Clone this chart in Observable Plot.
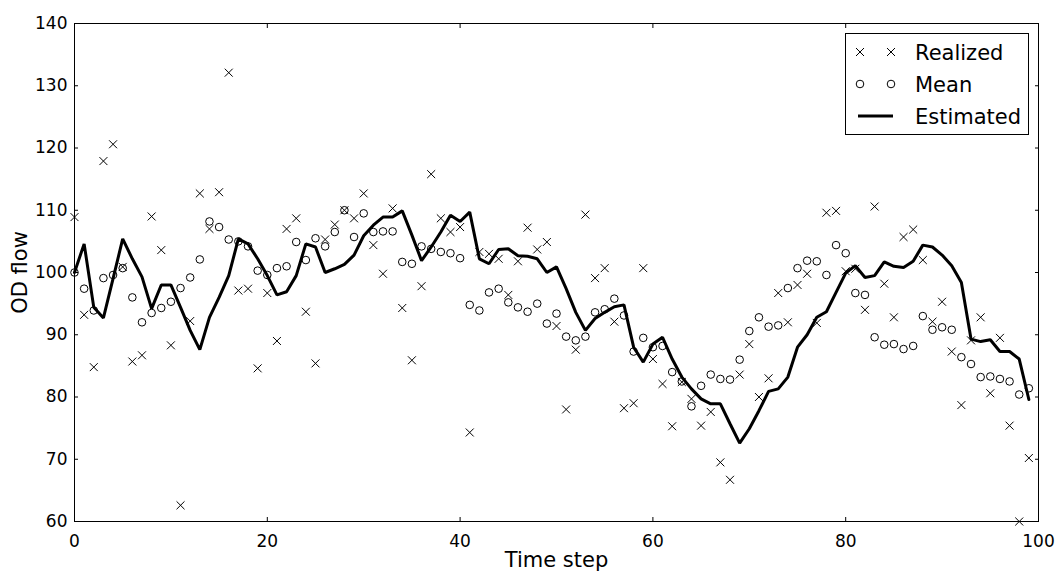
<!DOCTYPE html>
<html><head><meta charset="utf-8">
<script src="https://cdn.jsdelivr.net/npm/d3@7"></script>
<script src="https://cdn.jsdelivr.net/npm/@observablehq/plot@0.6"></script>
<style>
body{margin:0;background:#fff;font-family:"DejaVu Sans",sans-serif;}
#wrap{position:relative;width:1063px;height:572px;}
#legend{position:absolute;left:845px;top:33px;width:184px;height:102px;border:1px solid #000;background:#fff;box-sizing:border-box;font-size:21px;}
.row{position:absolute;left:0;height:30px;}
.row svg{position:absolute;left:0;top:0;}
.row span{position:absolute;left:69px;top:2px;white-space:nowrap;line-height:26px;}
</style></head><body><div id="wrap"><div id="legend"></div></div>
<script>
const realized = [108.9,93.2,84.8,117.9,120.6,100.9,85.7,86.7,109.0,103.6,88.3,62.6,92.2,112.7,107.0,112.9,132.1,97.1,97.4,84.6,
96.7,89.0,107.0,108.7,93.7,85.4,105.3,107.7,110.0,108.7,112.7,104.4,99.8,110.3,94.3,85.9,97.8,115.8,108.7,106.5,
107.3,74.3,103.3,103.0,102.2,96.4,101.8,107.2,103.7,104.9,91.4,78.0,87.6,109.3,99.1,100.7,92.1,78.2,79.0,100.7,
86.1,82.1,75.3,82.4,79.7,75.4,77.6,69.5,66.7,83.6,88.5,80.0,83.0,96.7,92.0,98.0,99.8,91.9,109.6,109.9,
100.2,100.6,94.0,110.6,98.2,92.8,105.7,106.9,102.0,92.1,95.3,87.3,78.7,89.1,92.8,80.6,89.5,75.4,60.0,70.2];
const mean = [100.0,97.4,93.9,99.1,99.6,100.7,96.0,92.0,93.5,94.3,95.3,97.5,99.2,102.1,108.2,107.3,105.3,105.0,104.2,100.3,
99.6,100.7,101.0,104.9,102.0,105.5,104.2,106.5,110.0,105.7,109.5,106.5,106.6,106.6,101.7,101.4,104.2,103.8,103.3,103.1,
102.3,94.8,93.9,96.8,97.4,95.2,94.4,93.7,95.0,91.8,93.4,89.7,89.1,89.7,93.6,94.1,95.8,93.1,87.3,89.5,
88.0,88.2,84.0,82.5,78.5,81.8,83.6,82.9,82.8,86.0,90.6,92.8,91.3,91.5,97.5,100.7,101.9,101.8,99.6,104.4,
103.1,96.7,96.4,89.6,88.4,88.5,87.7,88.2,93.0,90.8,91.2,90.8,86.4,85.3,83.2,83.3,82.9,82.5,80.4,81.4];
const estimated = [100.0,104.6,94.4,92.7,99.0,105.4,102.2,99.3,94.2,98.0,98.0,94.4,90.7,87.6,92.8,96.0,99.5,105.4,104.6,102.2,
99.5,96.4,96.9,99.5,104.6,104.1,100.0,100.6,101.3,102.8,105.9,107.6,108.9,108.9,109.9,106.0,101.9,104.1,106.5,109.2,
108.2,109.7,102.2,101.4,103.7,103.8,102.7,102.6,102.2,100.0,100.9,97.4,93.6,90.7,92.6,93.6,94.5,94.8,88.0,85.6,
88.5,89.6,86.1,83.2,81.3,79.7,78.9,78.9,75.7,72.6,74.9,77.8,80.9,81.3,83.2,88.0,90.0,92.8,93.7,96.8,
99.9,101.1,99.2,99.5,101.7,101.0,100.8,101.8,104.4,104.1,102.8,101.1,98.4,89.3,88.9,89.2,87.3,87.3,86.1,79.6];
const xTicks = [0,20,40,60,80,100];
const yTicks = [60,70,80,90,100,110,120,130,140];
const seriesNames = ["Realized","Mean","Estimated"];
const xLabel = "Time step";
const yLabel = "OD flow";

const rows = (arr) => arr.map((v,i)=>({t:i, v}));

const chart = Plot.plot({
  width:1063, height:572,
  marginLeft:74, marginRight:25, marginTop:23, marginBottom:51,
  style:{fontFamily:"DejaVu Sans", fontSize:"17px", background:"white", color:"black", overflow:"visible"},
  x:{domain:[0,100], ticks:xTicks},
  y:{domain:[60,140], ticks:yTicks},
  marks:[
    Plot.frame({stroke:"black", strokeWidth:1}),
    Plot.axisX(xTicks,{anchor:"bottom", tickSize:-4, tickPadding:17, label:null, fontSize:17}),
    Plot.axisX(xTicks,{anchor:"top", tickSize:-4, tickFormat:()=>"", label:null}),
    Plot.axisY(yTicks,{anchor:"left", tickSize:-4, tickPadding:11, label:null, fontSize:17}),
    Plot.axisY(yTicks,{anchor:"right", tickSize:-4, tickFormat:()=>"", label:null}),
    Plot.text([xLabel],{frameAnchor:"bottom", textAnchor:"middle", dy:39, fontSize:21, lineAnchor:"middle"}),
    Plot.text([yLabel],{frameAnchor:"left", textAnchor:"middle", dx:-54, rotate:-90, fontSize:21, lineAnchor:"middle"}),
    Plot.dot(rows(realized),{x:"t", y:"v", symbol:"times", r:3.7, stroke:"black", strokeWidth:1}),
    Plot.dot(rows(mean),{x:"t", y:"v", symbol:"circle", r:3.8, stroke:"black", fill:"none", strokeWidth:1}),
    Plot.line(rows(estimated),{x:"t", y:"v", stroke:"black", strokeWidth:3, strokeLinejoin:"miter"})
  ]
});
document.getElementById("wrap").prepend(chart);

// legend
const lg = document.getElementById("legend");
const sym = [
  `<line x1="10" y1="10" x2="18" y2="18" stroke="black"/><line x1="10" y1="18" x2="18" y2="10" stroke="black"/><line x1="41" y1="10" x2="49" y2="18" stroke="black"/><line x1="41" y1="18" x2="49" y2="10" stroke="black"/>`,
  `<circle cx="14" cy="14" r="3.8" fill="none" stroke="black"/><circle cx="45" cy="14" r="3.8" fill="none" stroke="black"/>`,
  `<line x1="12" y1="14" x2="47" y2="14" stroke="black" stroke-width="3"/>`
];
seriesNames.forEach((name,i)=>{
  const r = document.createElement("div");
  r.className="row";
  r.style.top = (4 + i*32) + "px";
  r.innerHTML = `<svg width="60" height="28">${sym[i]}</svg><span>${name}</span>`;
  lg.appendChild(r);
});
</script></body></html>
